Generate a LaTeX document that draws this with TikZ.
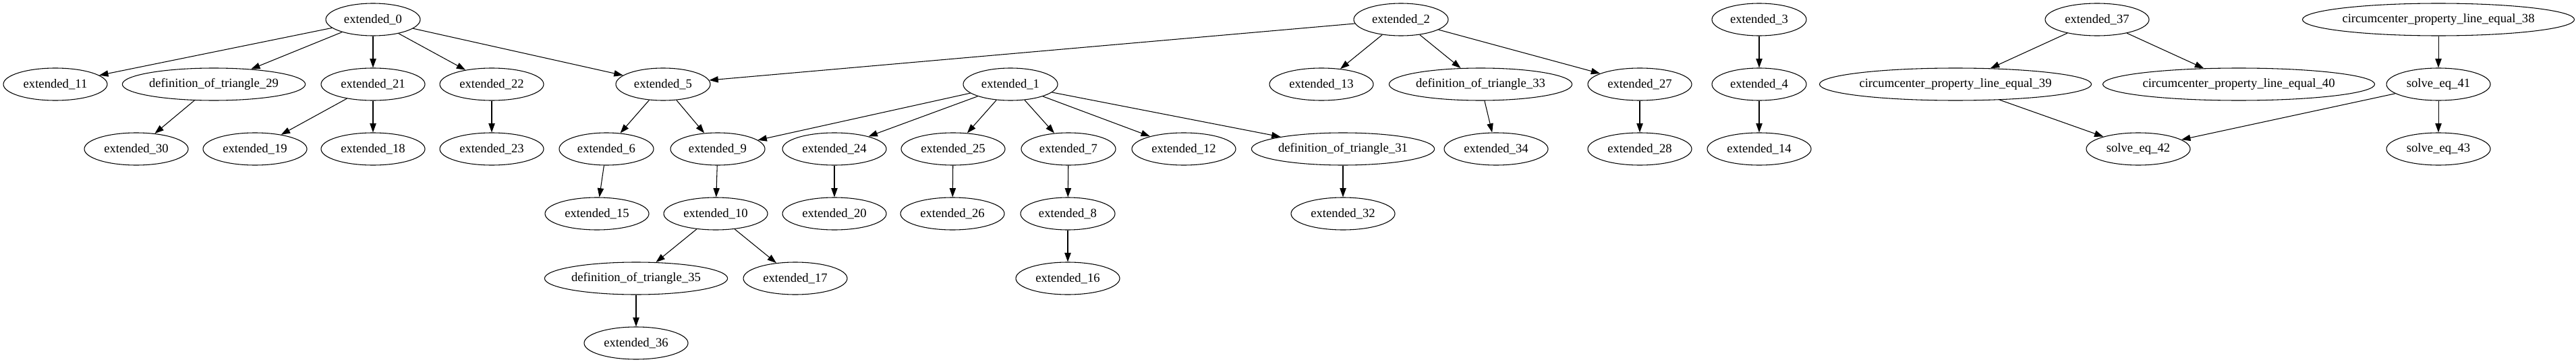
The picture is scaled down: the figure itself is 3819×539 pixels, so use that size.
\documentclass[tikz,border=0pt]{standalone}
\usepackage{fontspec}
\setmainfont{Liberation Serif}
\usetikzlibrary{shapes.geometric,arrows.meta}

\begin{document}
\begin{tikzpicture}[x=0.75pt, y=-0.75pt,
    fact/.style={ellipse, draw, line width=0.8pt, inner sep=0pt, minimum height=36pt, minimum width=105pt, font=\fontsize{14}{16}\selectfont},
    factwide/.style={fact, minimum width=115.5pt},
    defn/.style={fact, minimum width=202.5pt},
    circprop/.style={fact, minimum width=299pt},
    arrow/.style={-{Triangle[length=10pt, width=7pt]}, line width=0.8pt}
]

% Canvas
\fill[white] (0,0) rectangle (3819,539);
\useasboundingbox (0,0) rectangle (3819,539);

% Row 0
\node[fact] (e0) at (553,29) {extended\_0};
\node[fact] (e2) at (2077,29) {extended\_2};
\node[fact] (e3) at (2608,29) {extended\_3};
\node[factwide] (e37) at (3109,29) {extended\_37};
\node[circprop] (c38) at (3615,29) {circumcenter\_property\_line\_equal\_38};

% Row 1
\node[factwide] (e11) at (82,125) {extended\_11};
\node[defn] (d29) at (317,125) {definition\_of\_triangle\_29};
\node[factwide] (e21) at (553,125) {extended\_21};
\node[factwide] (e22) at (729,125) {extended\_22};
\node[fact] (e5) at (983,125) {extended\_5};
\node[fact] (e1) at (1498,125) {extended\_1};
\node[factwide] (e13) at (1959,125) {extended\_13};
\node[defn] (d33) at (2195,125) {definition\_of\_triangle\_33};
\node[factwide] (e27) at (2431,125) {extended\_27};
\node[fact] (e4) at (2608,125) {extended\_4};
\node[circprop] (c39) at (2899,125) {circumcenter\_property\_line\_equal\_39};
\node[circprop] (c40) at (3319,125) {circumcenter\_property\_line\_equal\_40};
\node[factwide] (s41) at (3615,125) {solve\_eq\_41};

% Row 2
\node[factwide] (e30) at (202,221) {extended\_30};
\node[factwide] (e19) at (378,221) {extended\_19};
\node[factwide] (e18) at (553,221) {extended\_18};
\node[factwide] (e23) at (729,221) {extended\_23};
\node[fact] (e6) at (899,221) {extended\_6};
\node[fact] (e9) at (1064,221) {extended\_9};
\node[factwide] (e24) at (1237,221) {extended\_24};
\node[factwide] (e25) at (1413,221) {extended\_25};
\node[fact] (e7) at (1584,221) {extended\_7};
\node[factwide] (e12) at (1755,221) {extended\_12};
\node[defn] (d31) at (1991,221) {definition\_of\_triangle\_31};
\node[factwide] (e34) at (2218,221) {extended\_34};
\node[factwide] (e28) at (2431,221) {extended\_28};
\node[factwide] (e14) at (2608,221) {extended\_14};
\node[factwide] (s42) at (3170,221) {solve\_eq\_42};
\node[factwide] (s43) at (3615,221) {solve\_eq\_43};

% Row 3
\node[factwide] (e15) at (885,317) {extended\_15};
\node[factwide] (e10) at (1061,317) {extended\_10};
\node[factwide] (e20) at (1237,317) {extended\_20};
\node[factwide] (e26) at (1412,317) {extended\_26};
\node[fact] (e8) at (1583,317) {extended\_8};
\node[factwide] (e32) at (1991,317) {extended\_32};

% Row 4
\node[defn] (d35) at (943,413) {definition\_of\_triangle\_35};
\node[factwide] (e17) at (1179,413) {extended\_17};
\node[factwide] (e16) at (1583,413) {extended\_16};

% Row 5
\node[factwide] (e36) at (943,509) {extended\_36};

% Arrows
\draw[arrow] (e0) -- (e11);
\draw[arrow] (e0) -- (d29);
\draw[arrow] (e0) -- (e21);
\draw[arrow] (e0) -- (e22);
\draw[arrow] (e0) -- (e5);
\draw[arrow] (d29) -- (e30);
\draw[arrow] (e21) -- (e19);
\draw[arrow] (e21) -- (e18);
\draw[arrow] (e22) -- (e23);
\draw[arrow] (e2) -- (e5);
\draw[arrow] (e2) -- (e13);
\draw[arrow] (e2) -- (d33);
\draw[arrow] (e2) -- (e27);
\draw[arrow] (e5) -- (e6);
\draw[arrow] (e5) -- (e9);
\draw[arrow] (e1) -- (e9);
\draw[arrow] (e1) -- (e24);
\draw[arrow] (e1) -- (e25);
\draw[arrow] (e1) -- (e7);
\draw[arrow] (e1) -- (e12);
\draw[arrow] (e1) -- (d31);
\draw[arrow] (e6) -- (e15);
\draw[arrow] (e9) -- (e10);
\draw[arrow] (e10) -- (d35);
\draw[arrow] (e10) -- (e17);
\draw[arrow] (d35) -- (e36);
\draw[arrow] (e24) -- (e20);
\draw[arrow] (e25) -- (e26);
\draw[arrow] (e7) -- (e8);
\draw[arrow] (e8) -- (e16);
\draw[arrow] (d31) -- (e32);
\draw[arrow] (d33) -- (e34);
\draw[arrow] (e27) -- (e28);
\draw[arrow] (e3) -- (e4);
\draw[arrow] (e4) -- (e14);
\draw[arrow] (e37) -- (c39);
\draw[arrow] (e37) -- (c40);
\draw[arrow] (c38) -- (s41);
\draw[arrow] (c39) -- (s42);
\draw[arrow] (s41) -- (s42);
\draw[arrow] (s41) -- (s43);

\end{tikzpicture}
\end{document}
